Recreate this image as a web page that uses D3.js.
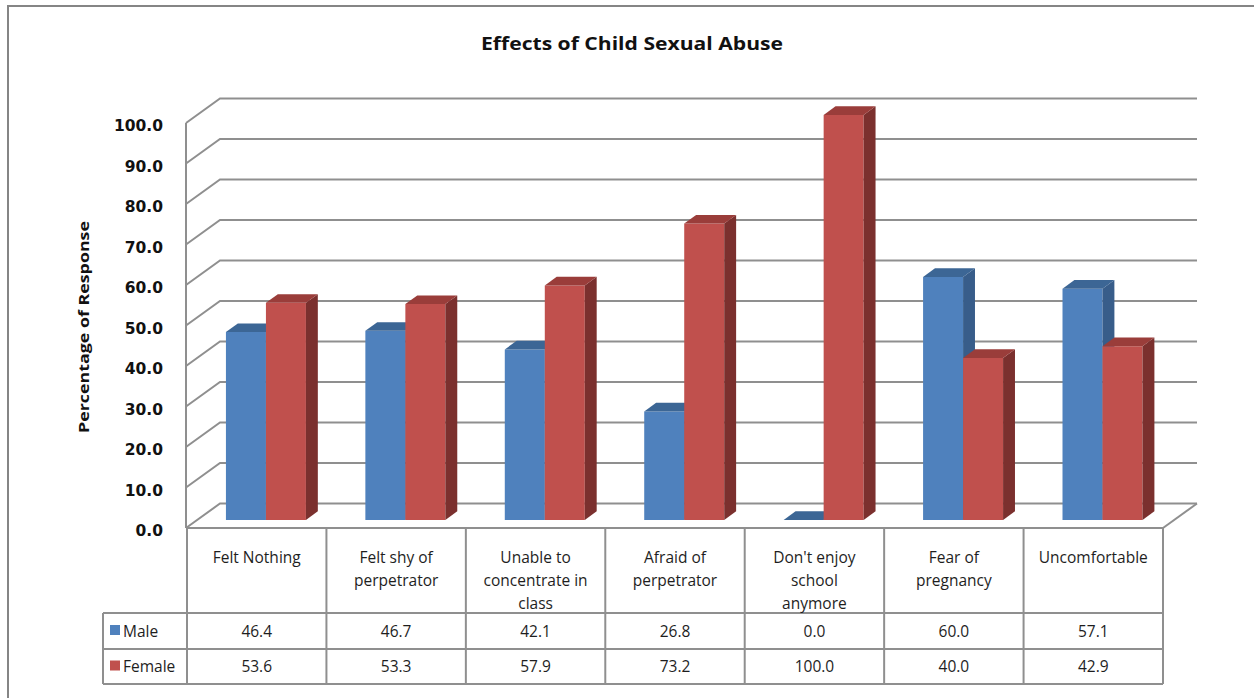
<!DOCTYPE html>
<html>
<head>
<meta charset="utf-8">
<script src="https://cdn.jsdelivr.net/npm/d3@7"></script>
<style>
  html, body { margin: 0; padding: 0; background: #fff; }
  svg { display: block; }
</style>
</head>
<body>
<svg id="chart" width="1254" height="698"></svg>
<script>
// ---- data ----
const categories = [
  "Felt Nothing",
  "Felt shy of\nperpetrator",
  "Unable to\nconcentrate in\nclass",
  "Afraid of\nperpetrator",
  "Don't enjoy\nschool\nanymore",
  "Fear of\npregnancy",
  "Uncomfortable"
];
const seriesNames = ["Male", "Female"];
const maleValues   = [46.4, 46.7, 42.1, 26.8, 0.0, 60.0, 57.1];
const femaleValues = [53.6, 53.3, 57.9, 73.2, 100.0, 40.0, 42.9];
const yTicks = [0, 10, 20, 30, 40, 50, 60, 70, 80, 90, 100];
const title = "Effects of Child Sexual Abuse";
const yTitle = "Percentage of Response";

// ---- layout ----
const svg = d3.select("#chart");
const W = 1254, H = 698;
const plot = { left: 187, right: 1163, floor: 528, top: 123 };
const DX = 34, DY = -24.5;          // full depth offset of the back wall
const barD0 = 0.33, barD1 = 0.68;   // bar front/back depth fractions
const colors = {
  Male:   { front: "#4f81bd", top: "#3c6695", side: "#385d8a" },
  Female: { front: "#c0504d", top: "#9a3d3a", side: "#7b302e" }
};
const gridColor = "#8f8f8f";
const textColor = "#1e1e1e";

const x = d3.scaleBand().domain(d3.range(categories.length)).range([plot.left, plot.right]);
const y = d3.scaleLinear().domain([0, 100]).range([plot.floor, plot.top]);
const inner = d3.scaleBand().domain(seriesNames).range([-40, 40]);
const groupShift = -2;

// project a front-plane point back into depth d (0 = front, 1 = back)
const P = (px, py, d) => [px + d * DX, py + d * DY];

// outer frame
svg.append("rect")
  .attr("x", 8).attr("y", 6).attr("width", W + 10).attr("height", H + 10)
  .attr("fill", "none").attr("stroke", "#858585").attr("stroke-width", 2);

// title
svg.append("text")
  .attr("x", 632).attr("y", 50)
  .attr("text-anchor", "middle")
  .attr("font-family", "'Open Sans', sans-serif")
  .attr("font-weight", "bold").attr("font-size", 17)
  .attr("textLength", 302).attr("lengthAdjust", "spacingAndGlyphs")
  .attr("fill", "#111")
  .text(title);

// walls and gridlines
const grid = svg.append("g").attr("fill", "none").attr("stroke", gridColor).attr("stroke-width", 2);
const leftX = plot.left - 1;
grid.append("line")
  .attr("x1", leftX).attr("y1", y(100)).attr("x2", leftX).attr("y2", y(0));
yTicks.forEach(t => {
  const [bx, by] = P(leftX, y(t), 1);
  grid.append("path")
    .attr("d", `M${leftX},${y(t)}L${bx},${by}L${plot.right + DX},${by}`);
});
// floor right edge
grid.append("line")
  .attr("x1", plot.right).attr("y1", y(0))
  .attr("x2", plot.right + DX).attr("y2", y(0) + DY);

// y tick labels
svg.append("g")
  .selectAll("text").data(yTicks).join("text")
  .attr("x", 163).attr("y", d => y(d) + 8)
  .attr("text-anchor", "end")
  .attr("font-family", "'DejaVu Sans', sans-serif")
  .attr("font-weight", "bold").attr("font-size", 15.5)
  .attr("fill", "#111")
  .text(d => d3.format(".1f")(d));

// y axis title
svg.append("text")
  .attr("transform", "translate(89,327) rotate(-90)")
  .attr("text-anchor", "middle")
  .attr("font-family", "'Open Sans', sans-serif")
  .attr("font-weight", "bold").attr("font-size", 15)
  .attr("textLength", 212).attr("lengthAdjust", "spacingAndGlyphs")
  .attr("fill", "#111")
  .text(yTitle);

// bars (front, top and side faces)
const barData = [];
categories.forEach((c, i) => {
  barData.push({ i, s: "Male", v: maleValues[i] });
  barData.push({ i, s: "Female", v: femaleValues[i] });
});
const bars = svg.append("g");
barData.forEach(b => {
  const cx = x(b.i) + x.bandwidth() / 2 + groupShift;
  const x0 = cx + inner(b.s), x1 = x0 + inner.bandwidth();
  const yb = y(0), yt = y(b.v);
  const f00 = P(x0, yb, barD0), f10 = P(x1, yb, barD0);
  const f01 = P(x0, yt, barD0), f11 = P(x1, yt, barD0);
  const b01 = P(x0, yt, barD1), b11 = P(x1, yt, barD1), b10 = P(x1, yb, barD1);
  const col = colors[b.s];
  const g = bars.append("g");
  if (b.v > 0) {
    g.append("path").attr("fill", col.front)
      .attr("d", `M${f00}L${f10}L${f11}L${f01}Z`);
    g.append("path").attr("fill", col.side)
      .attr("d", `M${f10}L${b10}L${b11}L${f11}Z`);
  }
  g.append("path").attr("fill", col.top)
    .attr("d", `M${f01}L${f11}L${b11}L${b01}Z`);
});

// data table
const table = svg.append("g").attr("stroke", gridColor).attr("stroke-width", 2).attr("fill", "none");
const rowTop = plot.floor, rowMale = 613, rowFemale = 649, rowEnd = 684;
const legendLeft = 103;
table.append("line").attr("x1", plot.left).attr("x2", plot.right).attr("y1", rowTop).attr("y2", rowTop);
[rowMale, rowFemale, rowEnd].forEach(ry => {
  table.append("line").attr("x1", legendLeft).attr("x2", plot.right).attr("y1", ry).attr("y2", ry);
});
table.append("line").attr("x1", legendLeft).attr("x2", legendLeft).attr("y1", rowMale).attr("y2", rowEnd);
d3.range(categories.length + 1).forEach(k => {
  const vx = k < categories.length ? x(k) : plot.right;
  table.append("line").attr("x1", vx).attr("x2", vx).attr("y1", rowTop).attr("y2", rowEnd);
});

const tfont = "'Open Sans', sans-serif";
const tsize = 15.5;
// category headers
const headers = svg.append("g")
  .attr("font-family", tfont).attr("font-size", tsize).attr("fill", textColor)
  .attr("text-anchor", "middle");
categories.forEach((c, i) => {
  const t = headers.append("text")
    .attr("x", x(i) + x.bandwidth() / 2).attr("y", 563);
  c.split("\n").forEach((line, k) => {
    t.append("tspan").attr("x", x(i) + x.bandwidth() / 2)
      .attr("dy", k === 0 ? 0 : 23).text(line);
  });
});

// value rows with legend keys
const rows = [
  { name: seriesNames[0], values: maleValues, top: rowMale, bottom: rowFemale },
  { name: seriesNames[1], values: femaleValues, top: rowFemale, bottom: rowEnd }
];
rows.forEach(r => {
  const cy = (r.top + r.bottom) / 2;
  svg.append("rect")
    .attr("x", 110).attr("y", cy - 6).attr("width", 10).attr("height", 10)
    .attr("fill", colors[r.name].front);
  svg.append("text")
    .attr("x", 123).attr("y", cy + 5.5)
    .attr("font-family", tfont).attr("font-size", tsize).attr("fill", textColor)
    .text(r.name);
  svg.append("g").selectAll("text").data(r.values).join("text")
    .attr("x", (d, i) => x(i) + x.bandwidth() / 2)
    .attr("y", cy + 5.5)
    .attr("text-anchor", "middle")
    .attr("font-family", tfont).attr("font-size", tsize).attr("fill", textColor)
    .text(d => d3.format(".1f")(d));
});
</script>
</body>
</html>
